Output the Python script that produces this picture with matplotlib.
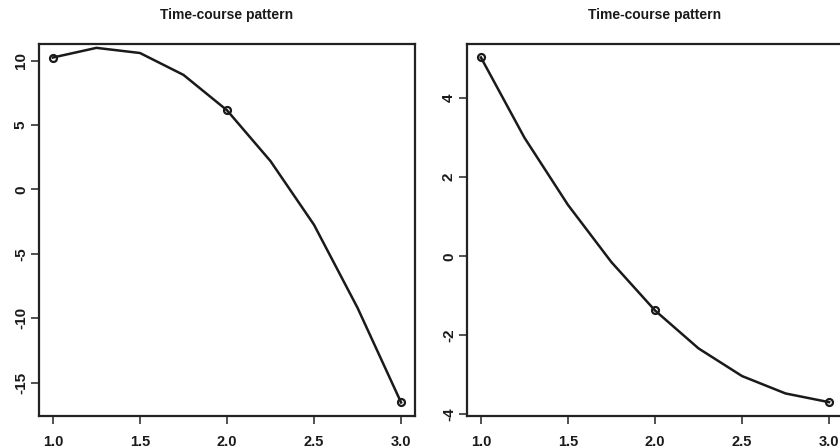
import matplotlib.pyplot as plt

plt.rcParams["font.family"] = ["Liberation Sans", "DejaVu Sans"]

time_points = [1.0, 1.25, 1.5, 1.75, 2.0, 2.25, 2.5, 2.75, 3.0]
observed_times = [1.0, 2.0, 3.0]

left_curve = [10.25, 11.0, 10.6, 8.9, 6.15, 2.2, -2.75, -9.2, -16.55]
left_observed = [10.25, 6.15, -16.55]

right_curve = [5.03, 3.0, 1.3, -0.15, -1.37, -2.33, -3.03, -3.47, -3.69]
right_observed = [5.03, -1.37, -3.69]

panels = [
    (left_curve, left_observed, [-15, -10, -5, 0, 5, 10], (-17.6, 11.3),
     [39 / 840, 1 - 416 / 448, 376 / 840, 372 / 448]),
    (right_curve, right_observed, [-4, -2, 0, 2, 4], (-4.04, 5.37),
     [467 / 840, 1 - 416 / 448, 376 / 840, 372 / 448]),
]

fig = plt.figure(figsize=(8.4, 4.48), dpi=100)

for curve, observed, yticks, ylim, rect in panels:
    ax = fig.add_axes(rect)
    ax.plot(time_points, curve, "-", color="#1a1a1a", linewidth=1.8)
    ax.plot(observed_times, observed, "o", markersize=5, markerfacecolor="none",
            markeredgecolor="#1a1a1a", markeredgewidth=1.6)
    ax.set_xlim(0.92, 3.08)
    ax.set_ylim(*ylim)
    ax.set_xticks([1.0, 1.5, 2.0, 2.5, 3.0])
    ax.set_xticklabels(["1.0", "1.5", "2.0", "2.5", "3.0"])
    ax.set_yticks(yticks)
    ax.set_yticklabels([str(t) for t in yticks], rotation=90, va="center")
    ax.tick_params(direction="out", length=6, width=1.2, color="#333333",
                   labelsize=10.5, labelcolor="#1a1a1a")
    ax.tick_params(axis="x", pad=8)
    ax.tick_params(axis="y", pad=2, labelsize=11)
    for label in ax.get_xticklabels() + ax.get_yticklabels():
        label.set_fontweight("bold")
    for spine in ax.spines.values():
        spine.set_linewidth(1.6)
        spine.set_color("#222222")
    ax.set_title("Time-course pattern", fontsize=10, fontweight="bold",
                 color="#1a1a1a", pad=18)

fig.savefig("out.png", dpi=100)
plt.close(fig)
